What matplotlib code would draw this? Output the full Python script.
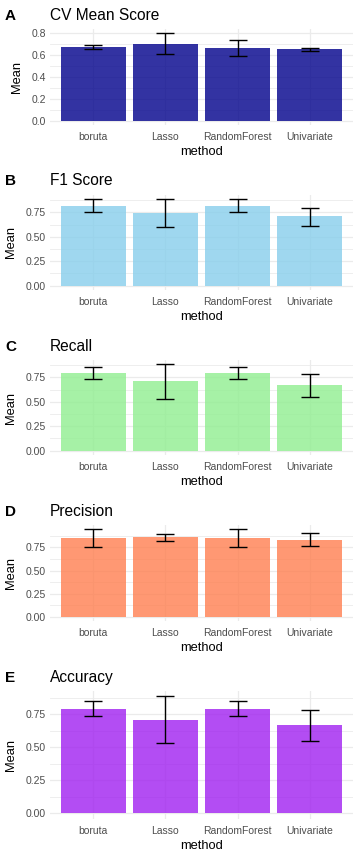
import matplotlib
matplotlib.use("Agg")
import matplotlib.pyplot as plt
import numpy as np

plt.rcParams['font.family'] = ['Liberation Sans', 'DejaVu Sans']

methods = ["boruta", "Lasso", "RandomForest", "Univariate"]

cv_mean = [0.675, 0.705, 0.666, 0.657]
cv_lo = [0.654, 0.608, 0.590, 0.635]
cv_hi = [0.690, 0.800, 0.736, 0.668]

f1_mean = [0.815, 0.743, 0.815, 0.713]
f1_lo = [0.750, 0.597, 0.750, 0.607]
f1_hi = [0.883, 0.883, 0.883, 0.797]

rec_mean = [0.791, 0.713, 0.791, 0.668]
rec_lo = [0.730, 0.525, 0.730, 0.546]
rec_hi = [0.852, 0.883, 0.852, 0.780]

prec_mean = [0.851, 0.862, 0.851, 0.829]
prec_lo = [0.750, 0.815, 0.750, 0.761]
prec_hi = [0.946, 0.891, 0.946, 0.902]

acc_mean = [0.790, 0.707, 0.790, 0.669]
acc_lo = [0.735, 0.530, 0.735, 0.545]
acc_hi = [0.848, 0.886, 0.848, 0.780]

panels = [
    ("A", "CV Mean Score", cv_mean, cv_lo, cv_hi, "#00008B", [0.0, 0.2, 0.4, 0.6, 0.8], ["0.0", "0.2", "0.4", "0.6", "0.8"]),
    ("B", "F1 Score", f1_mean, f1_lo, f1_hi, "#87CEEB", [0, 0.25, 0.5, 0.75], ["0.00", "0.25", "0.50", "0.75"]),
    ("C", "Recall", rec_mean, rec_lo, rec_hi, "#90EE90", [0, 0.25, 0.5, 0.75], ["0.00", "0.25", "0.50", "0.75"]),
    ("D", "Precision", prec_mean, prec_lo, prec_hi, "#FF7F50", [0, 0.25, 0.5, 0.75], ["0.00", "0.25", "0.50", "0.75"]),
    ("E", "Accuracy", acc_mean, acc_lo, acc_hi, "#A020F0", [0, 0.25, 0.5, 0.75], ["0.00", "0.25", "0.50", "0.75"]),
]

W, H = 361, 860
fig = plt.figure(figsize=(W / 100, H / 100), dpi=100)

# axes top/bottom in pixels, title baseline in pixels
layout = [(29, 125, 20), (195, 290, 185), (360, 455, 350.7), (525, 621, 516), (690.5, 819, 681.7)]
ax_left, ax_right = 50, 353

for (letter, title, mean, lo, hi, color, ticks, ticklabels), (top, bot, tb) in zip(panels, layout):
    ax = fig.add_axes([ax_left / W, 1 - bot / H, (ax_right - ax_left) / W, (bot - top) / H])
    x = np.arange(len(methods))
    mean = np.array(mean); lo = np.array(lo); hi = np.array(hi)
    ax.bar(x, mean, width=0.9, color=color, alpha=0.8, zorder=2)
    ax.errorbar(x, mean, yerr=[mean - lo, hi - mean], fmt='none', ecolor='black',
                elinewidth=1.0, capsize=6.8, capthick=1.0, zorder=3)
    ymax = max(hi.max(), 0)
    ymin = min(lo.min(), 0)
    rng = ymax - ymin
    step = ticks[1] - ticks[0]
    minor = np.arange(ticks[0] - step / 2, ymax + 0.05 * rng + step, step)
    ax.set_yticks(minor, minor=True)
    ax.set_yticks(ticks)
    ax.set_yticklabels(ticklabels)
    ax.set_ylim(ymin - 0.05 * rng, ymax + 0.05 * rng)
    ax.set_xlim(-0.6, len(methods) - 0.4)
    ax.set_xticks(x)
    ax.set_xticklabels(methods)
    for s in ax.spines.values():
        s.set_visible(False)
    ax.tick_params(axis='both', which='both', length=0, labelsize=7.5, labelcolor='#4D4D4D')
    ax.tick_params(axis='x', pad=5)
    ax.tick_params(axis='y', pad=3)
    ax.grid(True, which='major', color='#EBEBEB', linewidth=0.9, zorder=0)
    ax.grid(True, which='minor', axis='y', color='#EBEBEB', linewidth=0.6, zorder=0)
    ax.set_axisbelow(True)
    ax.set_xlabel("method", fontsize=9.3, labelpad=3)
    ax.set_ylabel("Mean", fontsize=9.3, labelpad=6)
    fig.text(ax_left / W, 1 - tb / H, title, fontsize=11.2, ha='left', va='baseline')
    fig.text(5 / W, 1 - tb / H, letter, fontsize=11, fontweight='bold', ha='left', va='baseline')

fig.savefig("out.png", dpi=100)
